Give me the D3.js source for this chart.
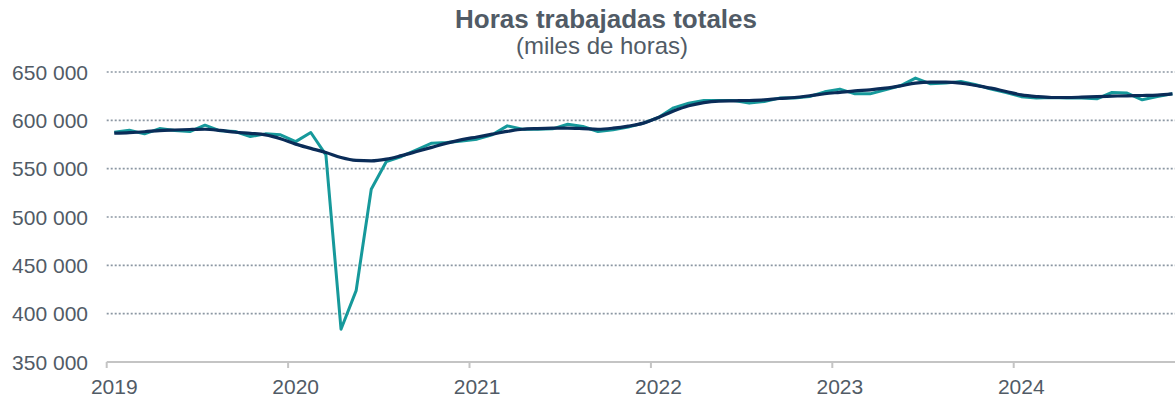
<!DOCTYPE html>
<html>
<head>
<meta charset="utf-8">
<script src="https://cdn.jsdelivr.net/npm/d3@7"></script>
<style>
  body { margin: 0; background: #fff; }
  svg { display: block; font-family: "Liberation Sans", Arial, sans-serif; }
</style>
</head>
<body>
<div id="vizArea"></div>
<script>
// Meses: enero 2019 a noviembre 2024
const meses = d3.utcMonth.range(new Date(Date.UTC(2019, 0, 1)), new Date(Date.UTC(2024, 11, 1)))
const anios = [2019, 2020, 2021, 2022, 2023, 2024]
const yTicks = [350000, 400000, 450000, 500000, 550000, 600000, 650000]

// Serie original (miles de horas)
const horas = [
  587800, 589800, 586000, 591500, 589400, 588400, 595000, 589100, 588400, 583200, 586000, 585000,
  578000, 587400, 564300, 383900, 423800, 528800, 557400, 562600, 569500, 576400, 577000, 578500,
  580500, 585000, 594300, 590800, 590800, 591200, 596000, 593600, 588400, 590200, 593000, 597100,
  602900, 612900, 617800, 620500, 620500, 620500, 617800, 619500, 623000, 623000, 624600, 629500,
  632300, 627400, 627400, 631600, 635700, 643700, 637800, 638500, 640200, 636800, 632300, 628800,
  624500, 623000, 623600, 623000, 623000, 622300, 628800, 628200, 621200, 624600, 627400
]

// Tendencia
const tendencia = [
  586700, 587300, 588200, 589400, 590000, 590500, 590800, 589600, 587700, 586500, 585000, 581000,
  575400, 571000, 566700, 561500, 558500, 558000, 559800, 563500, 567700, 572000, 576400, 580000,
  582800, 585700, 588500, 590800, 591500, 591900, 592000, 591500, 590800, 591900, 594000, 597100,
  603000, 609600, 615000, 618400, 619900, 620200, 620500, 621200, 622600, 623600, 625400, 627500,
  629000, 630500, 631600, 633300, 635700, 638500, 639500, 639500, 638500, 636000, 633300, 629800,
  626400, 624600, 623600, 623600, 624000, 624600, 625000, 625400, 625700, 626100, 627400
]

const width = 1175, height = 400
const textColor = '#515b66'

const svg = d3.select('#vizArea')
  .append('svg')
  .attr('width', width)
  .attr('height', height)

const x = d3.scaleBand()
  .domain(meses)
  .range([106.7, 1180])
  .paddingInner(0).paddingOuter(0)

const bw = x.bandwidth()
const xc = d => x(d) + bw / 2

const y = d3.scaleLinear()
  .domain([350000, 650000])
  .range([362, 72])

const fmt = v => d3.format(',')(v).replace(/,/g, ' ')

// Líneas de cuadrícula punteadas
svg.append('g')
  .selectAll('line')
  .data(yTicks.filter(d => d > 350000))
  .join('line')
  .attr('x1', 106.7)
  .attr('x2', width)
  .attr('y1', d => y(d))
  .attr('y2', d => y(d))
  .attr('stroke', '#8c97a3')
  .attr('stroke-width', 1.6)
  .attr('stroke-dasharray', '2,2')

// Etiquetas eje Y
svg.append('g')
  .selectAll('text')
  .data(yTicks)
  .join('text')
  .attr('x', 88)
  .attr('y', d => y(d))
  .attr('dy', '0.36em')
  .attr('text-anchor', 'end')
  .attr('font-size', 21)
  .attr('fill', textColor)
  .text(fmt)

// Eje X
const xAxis = svg.append('g')
xAxis.append('line')
  .attr('x1', 106.7)
  .attr('x2', width)
  .attr('y1', y(350000))
  .attr('y2', y(350000))
  .attr('stroke', '#c4c4c4')
  .attr('stroke-width', 2)

const enero = anios.map(a => meses.find(m => m.getUTCFullYear() === a && m.getUTCMonth() === 0))

xAxis.selectAll('line.tick')
  .data(enero)
  .join('line')
  .attr('class', 'tick')
  .attr('x1', d => x(d))
  .attr('x2', d => x(d))
  .attr('y1', y(350000))
  .attr('y2', y(350000) + 6)
  .attr('stroke', '#c4c4c4')
  .attr('stroke-width', 2)

xAxis.selectAll('text')
  .data(enero)
  .join('text')
  .attr('x', d => xc(d))
  .attr('y', 394)
  .attr('text-anchor', 'middle')
  .attr('font-size', 21)
  .attr('fill', textColor)
  .text(d => d.getUTCFullYear())

// Líneas
const line = d3.line()
  .x((d, i) => xc(meses[i]))
  .y(d => y(d))

svg.append('path')
  .datum(horas)
  .attr('fill', 'none')
  .attr('stroke', '#16999b')
  .attr('stroke-width', 3)
  .attr('stroke-linejoin', 'round')
  .attr('d', line)

svg.append('path')
  .datum(tendencia)
  .attr('fill', 'none')
  .attr('stroke', '#0a2c58')
  .attr('stroke-width', 3.2)
  .attr('stroke-linejoin', 'round')
  .attr('d', line.curve(d3.curveMonotoneX))

// Título
svg.append('text')
  .attr('x', 606)
  .attr('y', 28)
  .attr('text-anchor', 'middle')
  .attr('font-size', 26)
  .attr('font-weight', 'bold')
  .attr('fill', textColor)
  .text('Horas trabajadas totales')

svg.append('text')
  .attr('x', 602)
  .attr('y', 54)
  .attr('text-anchor', 'middle')
  .attr('font-size', 24)
  .attr('fill', textColor)
  .text('(miles de horas)')
</script>
</body>
</html>
